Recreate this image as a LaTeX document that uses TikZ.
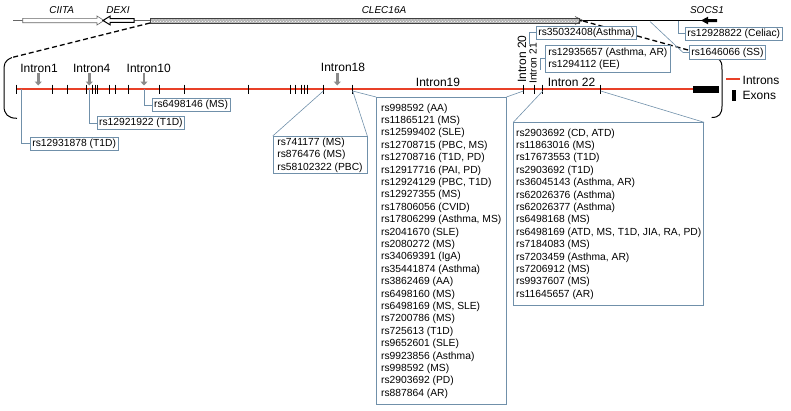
\documentclass[tikz,border=0pt]{standalone}
\usepackage{fontspec}
\setmainfont{Liberation Sans}
\usetikzlibrary{shapes}
\usetikzlibrary{arrows}
\usetikzlibrary{arrows.meta}
\usetikzlibrary{patterns}
\usetikzlibrary{calc}
\definecolor{boxblue}{RGB}{112,144,170}
\definecolor{intronred}{RGB}{232,64,40}
\definecolor{pointgray}{RGB}{138,138,138}
\newcommand{\snpsize}{\fontsize{10.3}{12.4}\selectfont}
\newcommand{\intronsize}{\fontsize{12}{14}\selectfont}
\newcommand{\genesize}{\fontsize{10}{12}\selectfont\itshape}

\begin{document}
\begin{tikzpicture}[x=1pt,y=-1pt]
\tikzstyle{snp} = [rectangle, draw=boxblue, line width=0.8pt, fill=white,
font=\snpsize, inner xsep=2pt, inner ysep=2pt, anchor=west]
\tikzstyle{snplist} = [snp, anchor=north west, align=left, inner ysep=1pt]
\tikzstyle{intron} = [font=\intronsize, inner sep=1pt]
\tikzstyle{gene} = [font=\genesize, inner sep=1pt]
\tikzstyle{conn} = [draw=boxblue, line width=0.6pt]
\tikzstyle{pointer} = [draw=pointgray, line width=2.4pt, -{Triangle[length=4pt,width=7pt]}]
\tikzstyle{zoomline} = [draw, line width=1.3pt, dash pattern=on 5pt off 3pt]
\useasboundingbox (0,0) rectangle (791,410);

% gene track
\draw[black!60, line width=0.8pt] (13,20.5) -- (150,20.5);
\draw[black!60, fill=white, line width=0.6pt] (22.7,18.3) -- (97,18.3) -- (97,16) -- (104,20.5) -- (97,25) -- (97,22.7) -- (22.7,22.7) -- cycle;
\draw[black, fill=white, line width=1pt] (134,18.7) -- (110,18.7) -- (110,16.2) -- (103,20.5) -- (110,24.8) -- (110,22.3) -- (134,22.3) -- cycle;
\draw[black, line width=1.2pt] (579,20.5) -- (717,20.5);
\fill[gray!60] (150,18.5) rectangle (579,22.8);
\fill[pattern=crosshatch dots, pattern color=white] (150,18.5) rectangle (579,22.8);
\draw[black!75, line width=0.6pt] (150,18.5) rectangle (579,22.8);
\draw[black!75, line width=0.6pt] (575,16.5) -- (583,20.5) -- (575,24.5);
\fill[black] (701,20.5) -- (708,16.7) -- (708,19) -- (717,19) -- (717,22) -- (708,22) -- (708,24.3) -- cycle;
\node[gene] (ciita) at (61.7,10.5) {CIITA};
\node[gene] (dexi) at (118,10.5) {DEXI};
\node[gene] (clec) at (384,10.5) {CLEC16A};
\node[gene] (socs) at (707,10) {SOCS1};

\coordinate (clecstart) at (150,23);
\coordinate (clecend) at (583,21);
\coordinate (brackL) at (12,57.5);
\coordinate (brackR) at (717,58);
\coordinate (cceliac) at (678,20.5);
\coordinate (css) at (650,21.5);

% zoom lines and brackets
\draw[zoomline] (clecstart) -- (brackL);
\draw[zoomline] (clecend) -- (brackR);
\draw[line width=1pt] (brackL) .. controls (4,61) and (4,64) .. (4,72) -- (4,106) .. controls (4,114) and (8,118.3) .. (17,118.3);
\draw[line width=1pt] (brackR) .. controls (722,61) and (722,64) .. (722,70) -- (722,106) .. controls (722,114) and (719,117.5) .. (711.7,117.5);

% introns and exons
\draw[intronred, line width=1.8pt] (16.7,89) -- (693,89);
\fill[black] (693,85.5) rectangle (719,92.5);
\foreach \t in {16.7,52.3,67.7,86,92.3,95,97.5,109,115.7,128.7,159,184.7,248,290,295,301.5,304.5,307.5,323.3,352.7,523.3,534.3,542.7,600.7}
  \draw[line width=1pt] (\t,84.5) -- (\t,93.5);

\coordinate (d1) at (21.7,89);
\coordinate (d4) at (89.3,89);
\coordinate (d10) at (144,89);
\coordinate (t18a) at (323.3,91);
\coordinate (t18b) at (352.7,91);
\coordinate (t20) at (523.3,91);
\coordinate (t22a) at (542.7,91);
\coordinate (t22b) at (600.7,91);
\coordinate (c20) at (529.3,43.5);
\coordinate (c21) at (540,70);
\coordinate (p1) at (38.3,85.5);
\coordinate (p4) at (89.3,85.5);
\coordinate (p10) at (144,85.5);
\coordinate (p18) at (337.3,85.5);

\node[intron] (in1) at (39,68) {Intron1};
\node[intron] (in4) at (91.7,68) {Intron4};
\node[intron] (in10) at (148.7,68) {Intron10};
\node[intron] (in18) at (343,67.3) {Intron18};
\node[intron] (in19) at (438,82) {Intron19};
\node[intron, rotate=90] (in20) at (522,59) {Intron 20};
\node[intron, rotate=90, font=\snpsize] (in21) at (533,63.5) {Intron 21};
\node[intron] (in22) at (571.5,82) {Intron 22};

\draw[pointer] (p1 |- in1.south) -- (p1);
\draw[pointer] (p4 |- in4.south) -- (p4);
\draw[pointer] (p10 |- in10.south) -- (p10);
\draw[pointer] (p18 |- in18.south) -- (p18);

% SNP boxes
\node[snp] (t1dA) at (30,143.7) {rs12931878 (T1D)};
\node[snp] (t1dB) at (96.7,123) {rs12921922 (T1D)};
\node[snp] (msA) at (151.7,105) {rs6498146 (MS)};
\node[snplist, minimum width=93.8pt, minimum height=37.3pt] (list18) at (272.7,136)
{rs741177 (MS)\\rs876476 (MS)\\rs58102322 (PBC)};
\node[snplist, minimum width=129.7pt, minimum height=307.3pt] (list19) at (376,97)
{rs998592 (AA)\\rs11865121 (MS)\\rs12599402 (SLE)\\rs12708715 (PBC, MS)\\rs12708716 (T1D, PD)\\rs12917716 (PAI, PD)\\rs12924129 (PBC, T1D)\\rs12927355 (MS)\\rs17806056 (CVID)\\rs17806299 (Asthma, MS)\\rs2041670 (SLE)\\rs2080272 (MS)\\rs34069391 (IgA)\\rs35441874 (Asthma)\\rs3862469 (AA)\\rs6498160 (MS)\\rs6498169 (MS, SLE)\\rs7200786 (MS)\\rs725613 (T1D)\\rs9652601 (SLE)\\rs9923856 (Asthma)\\rs998592 (MS)\\rs2903692 (PD)\\rs887864 (AR)};
\node[snplist, minimum width=190pt, minimum height=182.7pt] (list22) at (513.3,122.3)
{rs2903692 (CD, ATD)\\rs11863016 (MS)\\rs17673553 (T1D)\\rs2903692 (T1D)\\rs36045143 (Asthma, AR)\\rs62026376 (Asthma)\\rs62026377 (Asthma)\\rs6498168 (MS)\\rs6498169 (ATD, MS, T1D, JIA, RA, PD)\\rs7184083 (MS)\\rs7203459 (Asthma, AR)\\rs7206912 (MS)\\rs9937607 (MS)\\rs11645657 (AR)};
\node[snplist, minimum width=125pt, minimum height=26.7pt] (list21) at (545,45)
{rs12935657 (Asthma, AR)\\rs1294112 (EE)};
\node[snp] (list20) at (536,32.75) {rs35032408(Asthma)};
\node[snp] (celiac) at (685,33.7) {rs12928822 (Celiac)};
\node[snp] (sjogren) at (689,52.5) {rs1646066 (SS)};

% connectors
\draw[conn] (d1) |- (t1dA.west);
\draw[conn] (d4) |- (t1dB.west);
\draw[conn] (d10) |- (msA.west);
\draw[conn] (t18a) -- (list18.north west);
\draw[conn] (t18b) -- (list18.north east);
\draw[conn] (t18b) -- (list19.north west);
\draw[conn] (t20) -- (list19.north east);
\draw[conn] (t22a) -- (list22.north west);
\draw[conn] (t22b) -- (list22.north east);
\draw[conn] (list20.west) -| (c20);
\draw[conn] (list21.west) -| (c21);
\draw[conn] (cceliac) |- (celiac.west);
\draw[conn] (css) -- ([xshift=-6pt]sjogren.west) -- (sjogren.west);

% legend
\draw[intronred, line width=1.8pt] (726,79) -- (740,79);
\node[anchor=west, font=\intronsize, inner sep=0pt] (lgintron) at (742.5,80) {Introns};
\fill[black] (731.7,90) rectangle (735.7,100.7);
\node[anchor=west, font=\intronsize, inner sep=0pt] (lgexon) at (742.5,95.5) {Exons};
\end{tikzpicture}
\end{document}
